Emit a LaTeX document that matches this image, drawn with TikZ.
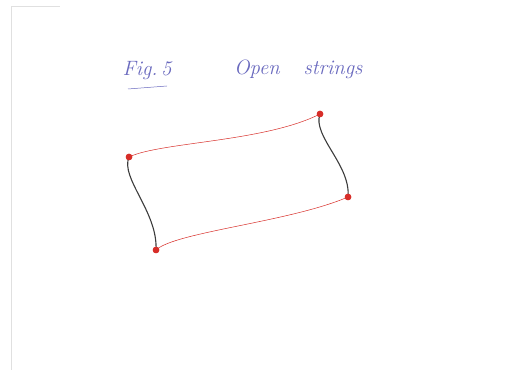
\documentclass[tikz,border=0pt]{standalone}
\usepackage{xcolor}
\usepackage{tikz}
\usetikzlibrary{positioning}
\definecolor{inkblue}{RGB}{105,105,190}
\definecolor{inkred}{RGB}{215,45,40}
\definecolor{inkgray}{RGB}{60,60,60}
\tikzset{
	endpt/.style={circle, fill=inkred, inner sep=0pt, minimum size=6.5pt},
	redline/.style={draw=inkred, line width=0.5pt},
	blackline/.style={draw=inkgray, line width=1.1pt},
	note/.style={text=inkblue, font=\huge\itshape, inner sep=1pt}
}
\begin{document}
\begin{tikzpicture}[x=1pt, y=-1pt]
	% Page and edge:
	\useasboundingbox (0, 0) rectangle (517, 379);
	\draw[black!12, line width=0.6pt] (11, 370) -- (11, 6) -- (60, 6);
	% Title texts:
	\node[note] (fig) at (147, 71){Fig.\,5};
	\draw[inkblue, line width=0.5pt] (128, 89) -- (167, 86);
	\node[note] (open) at (257, 69){Open};
	\node[note] (strings) at (333, 70){strings};
	% String ends:
	\node[endpt] (a) at (129, 157){};
	\node[endpt] (b) at (320, 114){};
	\node[endpt] (c) at (348, 197){};
	\node[endpt] (d) at (156, 250){};
	% Strings:
	\draw[redline] (a.center) .. controls (160, 142) and (265, 142) .. (b.center);
	\draw[redline] (d.center) .. controls (175, 232) and (290, 222) .. (c.center);
	\draw[blackline] (a.center) .. controls (120, 178) and (158, 212) .. (d.center);
	\draw[blackline] (b.center) .. controls (312, 136) and (351, 165) .. (c.center);
	\foreach \p in {a, b, c, d}
		\node[endpt] at (\p){};
\end{tikzpicture}
\end{document}
